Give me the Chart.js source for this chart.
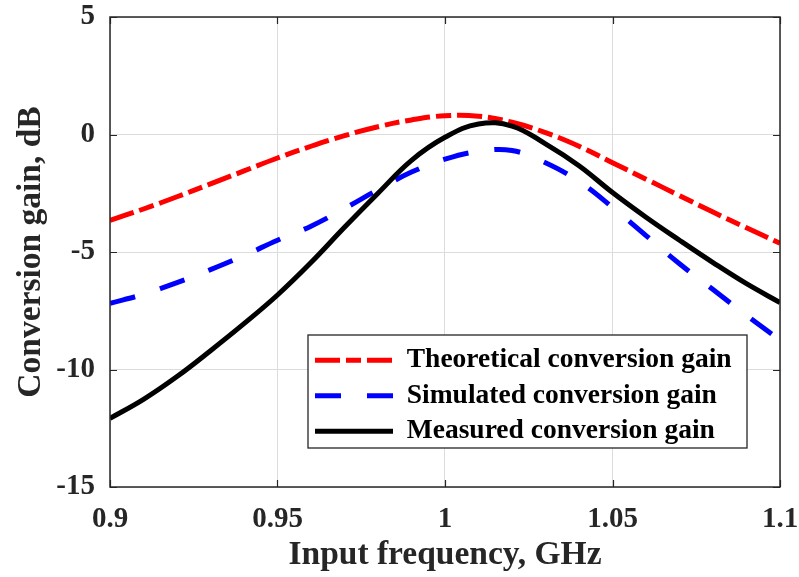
<!DOCTYPE html>
<html>
<head>
<meta charset="utf-8">
<script src="https://cdn.jsdelivr.net/npm/chart.js@4.4.1/dist/chart.umd.min.js"></script>
<style>
  html, body { margin: 0; padding: 0; background: #fff; }
</style>
</head>
<body>
<canvas id="gain" width="799" height="577"></canvas>
<script>
// DATA
const freqs = [0.90, 0.91, 0.92, 0.93, 0.94, 0.95, 0.96, 0.97, 0.98, 0.99, 1.00,
               1.01, 1.02, 1.03, 1.04, 1.05, 1.06, 1.07, 1.08, 1.09, 1.10];
const theoretical = [-3.65, -3.17, -2.65, -2.1, -1.55, -1.0, -0.5, -0.05, 0.33, 0.62, 0.8,
                     0.78, 0.52, 0.08, -0.5, -1.2, -1.9, -2.6, -3.3, -3.97, -4.63];
const simulated = [-7.18, -6.8, -6.3, -5.75, -5.15, -4.5, -3.9, -3.15, -2.35, -1.6, -1.05,
                   -0.72, -0.68, -1.2, -2.0, -3.1, -4.3, -5.5, -6.6, -7.7, -8.75];
const measured = [-12.08, -11.27, -10.3, -9.2, -8.05, -6.83, -5.45, -3.95, -2.5, -1.1, -0.12,
                  0.45, 0.36, -0.4, -1.33, -2.47, -3.52, -4.5, -5.45, -6.35, -7.15];
const seriesNames = ["Theoretical conversion gain", "Simulated conversion gain", "Measured conversion gain"];
const xTicks = [0.9, 0.95, 1, 1.05, 1.1];
const yTicks = [-15, -10, -5, 0, 5];

const serif = "'Liberation Serif', 'Times New Roman', serif";
const axisGray = "#262626";

const points = (vals) => vals.map((v, i) => ({ x: freqs[i], y: v }));

// legend sits inside the axes with a white box, ticks point inward on all sides
const matlabFrame = {
  id: "matlabFrame",
  afterLayout(chart) {
    const lg = chart.legend;
    lg.left = 307;
    lg.top = 338.5;
    lg.right = 747;
    lg.bottom = 577;
  },
  afterDatasetsDraw(chart) {
    const { ctx, chartArea: a, scales } = chart;
    ctx.save();
    ctx.strokeStyle = axisGray;
    ctx.lineWidth = 1.2;
    ctx.beginPath();
    scales.x.ticks.forEach((t) => {
      const px = Math.round(scales.x.getPixelForValue(t.value)) + 0.5;
      ctx.moveTo(px, a.bottom); ctx.lineTo(px, a.bottom - 7);
      ctx.moveTo(px, a.top); ctx.lineTo(px, a.top + 7);
    });
    scales.y.ticks.forEach((t) => {
      const py = Math.round(scales.y.getPixelForValue(t.value)) + 0.5;
      ctx.moveTo(a.left, py); ctx.lineTo(a.left + 7, py);
      ctx.moveTo(a.right, py); ctx.lineTo(a.right - 7, py);
    });
    ctx.stroke();
    ctx.lineWidth = 1.5;
    ctx.strokeRect(a.left, a.top, a.right - a.left, a.bottom - a.top);
    ctx.restore();
  },
  afterDraw(chart) {
    const { ctx } = chart;
    ctx.save();
    ctx.fillStyle = "#fff";
    ctx.fillRect(308, 335, 439, 113);
    ctx.strokeStyle = axisGray;
    ctx.lineWidth = 1.3;
    ctx.strokeRect(308, 335, 439, 113);
    ctx.restore();
    chart.legend.draw();
  },
};

const ctx = document.getElementById("gain").getContext("2d");

const gainChart = new Chart(ctx, {
  type: "line",
  data: {
    datasets: [
      {
        label: seriesNames[0],
        data: points(theoretical),
        borderColor: "#ff0000",
        backgroundColor: "#ff0000",
        borderWidth: 5,
        borderDash: [25, 6, 15, 6],
        order: 3,
      },
      {
        label: seriesNames[1],
        data: points(simulated),
        borderColor: "#0000ff",
        backgroundColor: "#0000ff",
        borderWidth: 5,
        borderDash: [26, 26],
        order: 2,
      },
      {
        label: seriesNames[2],
        data: points(measured),
        borderColor: "#000000",
        backgroundColor: "#000000",
        borderWidth: 5,
        order: 1,
      },
    ],
  },
  options: {
    responsive: false,
    animation: false,
    layout: { padding: { top: 17, right: 19, left: 0, bottom: 0 } },
    elements: {
      point: { radius: 0 },
      line: { tension: 0.4, fill: false },
    },
    scales: {
      x: {
        type: "linear",
        min: 0.9,
        max: 1.1,
        afterBuildTicks: (s) => { s.ticks = xTicks.map((v) => ({ value: v })); },
        afterFit: (s) => { s.height = 90; s.paddingLeft = 0; s.paddingRight = 0; },
        grid: { color: "#dcdcdc", lineWidth: 1, drawTicks: false },
        border: { display: false },
        ticks: {
          autoSkip: false,
          maxRotation: 0,
          padding: 15,
          color: axisGray,
          font: { family: serif, size: 29, weight: "bold" },
          callback: (v) => String(Number(v.toFixed(2))),
        },
        title: {
          display: true,
          text: "Input frequency, GHz",
          color: axisGray,
          font: { family: serif, size: 33.5, weight: "bold" },
          padding: { top: 0, bottom: 2 },
        },
      },
      y: {
        min: -15,
        max: 5,
        afterBuildTicks: (s) => { s.ticks = yTicks.map((v) => ({ value: v })); },
        afterFit: (s) => { s.width = 110; s.paddingTop = 0; s.paddingBottom = 0; },
        grid: { color: "#dcdcdc", lineWidth: 1, drawTicks: false },
        border: { display: false },
        ticks: {
          autoSkip: false,
          padding: 15,
          color: axisGray,
          font: { family: serif, size: 29, weight: "bold" },
        },
        title: {
          display: true,
          text: "Conversion gain, dB",
          color: axisGray,
          font: { family: serif, size: 33.5, weight: "bold" },
          padding: { top: 11, bottom: 0 },
        },
      },
    },
    plugins: {
      legend: {
        position: "chartArea",
        align: "start",
        labels: {
          usePointStyle: true,
          pointStyle: "line",
          pointStyleWidth: 78,
          padding: 8,
          color: "#000",
          font: { family: serif, size: 27.5, weight: "bold", lineHeight: 1 },
          sort: (a, b) => a.datasetIndex - b.datasetIndex,
          // point styles carry no dash, so take the line look from the dataset
          generateLabels: (chart) =>
            Chart.defaults.plugins.legend.labels.generateLabels(chart).map((item) => {
              const ds = chart.data.datasets[item.datasetIndex];
              return {
                ...item,
                lineDash: ds.borderDash || [],
                lineWidth: ds.borderWidth,
                strokeStyle: ds.borderColor,
              };
            }),
        },
      },
      tooltip: { enabled: false },
    },
  },
  plugins: [matlabFrame],
});
</script>
</body>
</html>
